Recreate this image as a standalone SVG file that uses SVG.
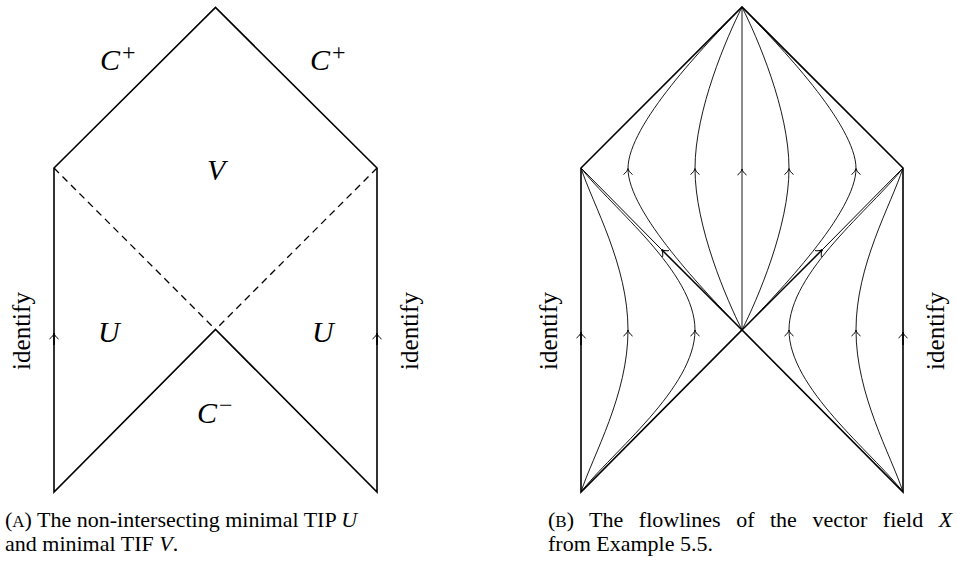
<svg xmlns="http://www.w3.org/2000/svg" width="957" height="563" viewBox="0 0 957 563" font-family="'Liberation Serif', serif">
<style>
text{font-family:'Liberation Serif','Times New Roman',serif}
.bd{fill:none;stroke:#000;stroke-width:1.6;stroke-linejoin:miter}
.dash{fill:none;stroke:#000;stroke-width:1.3;stroke-dasharray:7 5}
.fl{fill:none;stroke:#000;stroke-width:0.9}
.dg{fill:none;stroke:#000;stroke-width:1.0}
.dgt{fill:none;stroke:#000;stroke-width:1.5}
.ar{fill:none;stroke:#000;stroke-width:1.6}
.math{font-style:italic;font-size:30px}
.sup{font-style:normal;font-size:24px}
.lbl{font-size:25px}
.cap{font-size:22px}
.sc{font-size:17px}
.it{font-style:italic}
</style>
<defs>
<marker id="tip" markerUnits="userSpaceOnUse" markerWidth="12" markerHeight="12" viewBox="-7 -6 8 12" refX="0" refY="0" orient="auto" overflow="visible">
<path d="M-6,-4.5 C-4,-1.7 -1.7,-0.4 0,0 C-1.7,0.4 -4,1.7 -6,4.5" fill="none" stroke="#000" stroke-width="1"/>
</marker>
</defs>

<!-- Left diagram (A) -->
<g id="diagramA">
<path id="A-boundary" class="bd" d="M54,492 L54,168 L215.5,7.5 L377,168 L377,492 L215.5,329.5 Z"/>
<g id="A-dashed">
<path class="dash" d="M54,168 L215.5,329.5"/>
<path class="dash" d="M377,168 L215.5,329.5"/>
</g>
<g id="A-arrows">
<path class="ar" d="M54,345 L54,333" marker-end="url(#tip)"/>
<path class="ar" d="M377,345 L377,333" marker-end="url(#tip)"/>
</g>
<g id="A-labels">
<text class="math" x="100" y="70">C<tspan class="sup" dx="2" dy="-10">+</tspan></text>
<text class="math" x="310" y="70">C<tspan class="sup" dx="2" dy="-10">+</tspan></text>
<text class="math" x="207" y="180">V</text>
<text class="math" x="98" y="342">U</text>
<text class="math" x="312" y="342">U</text>
<text class="math" x="197" y="423">C<tspan class="sup" dx="2" dy="-10">−</tspan></text>
<text class="lbl" transform="translate(30,331) rotate(-90)" text-anchor="middle">identify</text>
<text class="lbl" transform="translate(418,331) rotate(-90)" text-anchor="middle">identify</text>
</g>
</g>

<!-- Right diagram (B) -->
<g id="diagramB">
<path id="B-boundary" class="bd" d="M581,492 L581,168 L742,7 L903,168 L903,492 L742,330 Z"/>
<g id="connectors">
<path class="ar" d="M581,345 L581,332" marker-end="url(#tip)"/>
<path class="ar" d="M903,345 L903,332" marker-end="url(#tip)"/>
<path class="dgt" d="M742,330 L661.5,249.5" marker-end="url(#tip)"/>
<path class="dg" d="M661.5,249.5 L581,168"/>
<path class="dgt" d="M742,330 L822.5,249.5" marker-end="url(#tip)"/>
<path class="dg" d="M822.5,249.5 L903,168"/>
<path class="fl" d="M742,330 L742,169" marker-end="url(#tip)"/>
<path class="fl" d="M742,169 L742,7"/>
<path class="fl" d="M742,330 C705,292 628,212 628,168.5" marker-end="url(#tip)"/>
<path class="fl" d="M628,168.5 C628,125 705,45 742,7"/>
<path class="fl" d="M742,330 C727,300 695,227 695,168.5" marker-end="url(#tip)"/>
<path class="fl" d="M695,168.5 C695,110 727,37 742,7"/>
<path class="fl" d="M742,330 C779,292 856,212 856,168.5" marker-end="url(#tip)"/>
<path class="fl" d="M856,168.5 C856,125 779,45 742,7"/>
<path class="fl" d="M742,330 C757,300 789,227 789,168.5" marker-end="url(#tip)"/>
<path class="fl" d="M789,168.5 C789,110 757,37 742,7"/>
<path class="fl" d="M581,492 C593,455 628,395 628,330" marker-end="url(#tip)"/>
<path class="fl" d="M628,330 C628,265 593,205 581,168"/>
<path class="fl" d="M581,492 C612,452 695,388 695,330" marker-end="url(#tip)"/>
<path class="fl" d="M695,330 C695,272 612,208 581,168"/>
<path class="fl" d="M903,492 C891,455 856,395 856,330" marker-end="url(#tip)"/>
<path class="fl" d="M856,330 C856,265 891,205 903,168"/>
<path class="fl" d="M903,492 C872,452 789,388 789,330" marker-end="url(#tip)"/>
<path class="fl" d="M789,330 C789,272 872,208 903,168"/>
</g>
<g id="B-labels">
<text class="lbl" transform="translate(557,331) rotate(-90)" text-anchor="middle">identify</text>
<text class="lbl" transform="translate(944,331) rotate(-90)" text-anchor="middle">identify</text>
</g>
</g>

<!-- Captions -->
<g id="captionA">
<text class="cap" x="5" y="527">(<tspan class="sc">A</tspan>) The non-intersecting minimal TIP <tspan class="it">U</tspan></text>
<text class="cap" x="5" y="551">and minimal TIF <tspan class="it">V</tspan>.</text>
</g>
<g id="captionB">
<text class="cap" x="548" y="527" word-spacing="10">(<tspan class="sc">B</tspan>) The flowlines of the vector field <tspan class="it">X</tspan></text>
<text class="cap" x="548" y="551">from Example 5.5.</text>
</g>
</svg>
